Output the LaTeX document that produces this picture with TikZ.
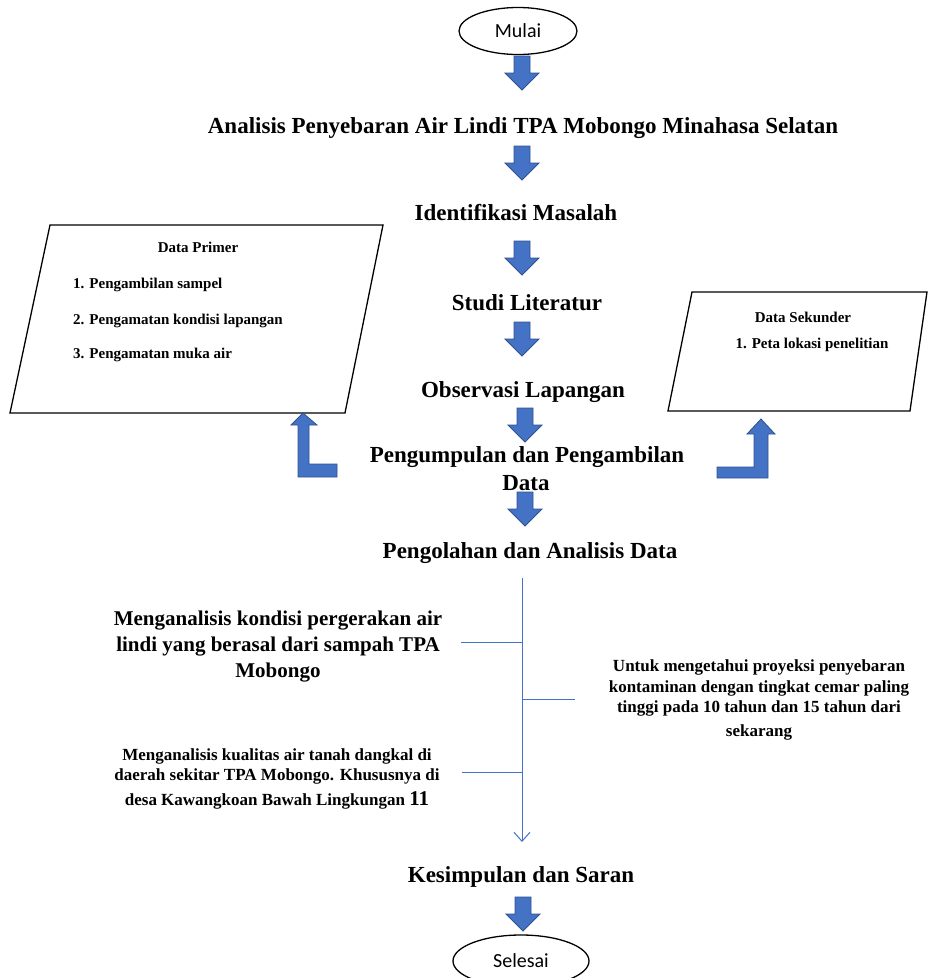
\documentclass[tikz,border=0pt]{standalone}
\usepackage{fontspec}
\setmainfont{Liberation Serif}
\newfontfamily\calib{Carlito}
\usetikzlibrary{shapes.geometric,arrows.meta}
\definecolor{blkfill}{RGB}{68,114,196}
\definecolor{blkedge}{RGB}{47,82,143}
\definecolor{linblue}{RGB}{68,114,196}
\tikzset{
  blk/.style={fill=blkfill,draw=blkedge,line width=0.8pt,line join=miter},
  downblk/.pic={\path[blk] (-8,0) -- (8,0) -- (8,17) -- (17,17) -- (0,34) -- (-17,17) -- (-8,17) -- cycle;},
  term/.style={ellipse,draw=black,line width=1.3pt,inner sep=0pt,font=\calib\fontsize{20}{24}\selectfont},
  head/.style={font=\bfseries\fontsize{23}{28}\selectfont,inner sep=0pt,anchor=base},
  boxtxt/.style={font=\bfseries\fontsize{15}{18}\selectfont,inner sep=0pt,anchor=base},
  para/.style={draw=black,line width=1.3pt,line join=miter},
  thin/.style={draw=linblue,line width=1pt},
  blocktxt/.style={align=center,inner sep=0pt}
}
\begin{document}
\begin{tikzpicture}[x=1pt,y=-1pt]
\useasboundingbox (0,0) rectangle (928,978);
\clip (0,0) rectangle (928,978);
% terminals
\node[term,minimum width=118,minimum height=47] (mulai) at (518,31) {Mulai};
\node[term,minimum width=136,minimum height=52] (selesai) at (521,961) {Selesai};
% headings
\node[head] (analisis) at (523,133) {Analisis Penyebaran Air Lindi TPA Mobongo Minahasa Selatan};
\node[head] (ident) at (516,220) {Identifikasi Masalah};
\node[head] (studi) at (527,310) {Studi Literatur};
\node[head] (obs) at (523,397) {Observasi Lapangan};
\node[head] (kump) at (527,462) {Pengumpulan dan Pengambilan};
\node[head] (kumpb) at (526,490) {Data};
\node[head] (olah) at (530,558) {Pengolahan dan Analisis Data};
\node[head] (kesim) at (521,882) {Kesimpulan dan Saran};
% block arrows
\pic at (522,56) {downblk};
\pic at (522,146) {downblk};
\pic at (522,241) {downblk};
\pic at (522,322) {downblk};
\pic at (525,408) {downblk};
\pic at (525,492) {downblk};
\pic at (523,897) {downblk};
% left parallelogram
\coordinate (p1) at (50,225);
\coordinate (p2) at (383,225);
\coordinate (p3) at (345,413);
\coordinate (p4) at (10,413);
\draw[para] (p1) -- (p2) -- (p3) -- (p4) -- cycle;
\node[boxtxt] (dp) at (198,252) {Data Primer};
\node[boxtxt,anchor=base west] (dp1) at (73,288) {1. Pengambilan sampel};
\node[boxtxt,anchor=base west] (dp2) at (73,324) {2. Pengamatan kondisi lapangan};
\node[boxtxt,anchor=base west] (dp3) at (73,358) {3. Pengamatan muka air};
% right parallelogram
\coordinate (q1) at (692,292);
\coordinate (q2) at (927,292);
\coordinate (q3) at (910,411);
\coordinate (q4) at (668,411);
\draw[para] (q1) -- (q2) -- (q3) -- (q4) -- cycle;
\node[boxtxt] (ds) at (803,322) {Data Sekunder};
\node[boxtxt] (ds1) at (812,348) {1. Peta lokasi penelitian};
% L arrows
\path[blk] (298,477) -- (337,477) -- (337,464) -- (309,464) -- (309,425) -- (317,425) -- (303,413) -- (291,425) -- (298,425) -- cycle;
\path[blk] (717,467) -- (754,467) -- (754,434) -- (747,434) -- (761,419) -- (775,434) -- (768,434) -- (768,478) -- (717,478) -- cycle;
% analysis lines
\coordinate (vtop) at (522,578);
\coordinate (vbot) at (522,842);
\coordinate (j1) at (522,642);
\coordinate (j2) at (522,699);
\coordinate (j3) at (522,772);
\coordinate (e1) at (461,642);
\coordinate (e2) at (575,699);
\coordinate (e3) at (462,772);
\draw[thin,-{Straight Barb[length=9pt,width=16pt,line width=1pt]}] (vtop) -- (vbot);
\draw[thin] (e1) -- (j1);
\draw[thin] (j2) -- (e2);
\draw[thin] (e3) -- (j3);
% text blocks
\node[blocktxt,font=\bfseries\fontsize{21}{26}\selectfont] (t1) at (278,647)
  {Menganalisis kondisi pergerakan air\\lindi yang berasal dari sampah TPA\\Mobongo};
\node[blocktxt,font=\bfseries\fontsize{17}{20}\selectfont] (t2) at (277,779)
  {Menganalisis kualitas air tanah dangkal di\\daerah sekitar TPA Mobongo. Khususnya di\\[5pt]desa Kawangkoan Bawah Lingkungan {\fontsize{21}{20}\selectfont 11}};
\node[blocktxt,font=\bfseries\fontsize{17}{20.5}\selectfont] (t3) at (759,700)
  {Untuk mengetahui proyeksi penyebaran\\kontaminan dengan tingkat cemar paling\\tinggi pada 10 tahun dan 15 tahun dari\\[3pt]sekarang};
\end{tikzpicture}
\end{document}
